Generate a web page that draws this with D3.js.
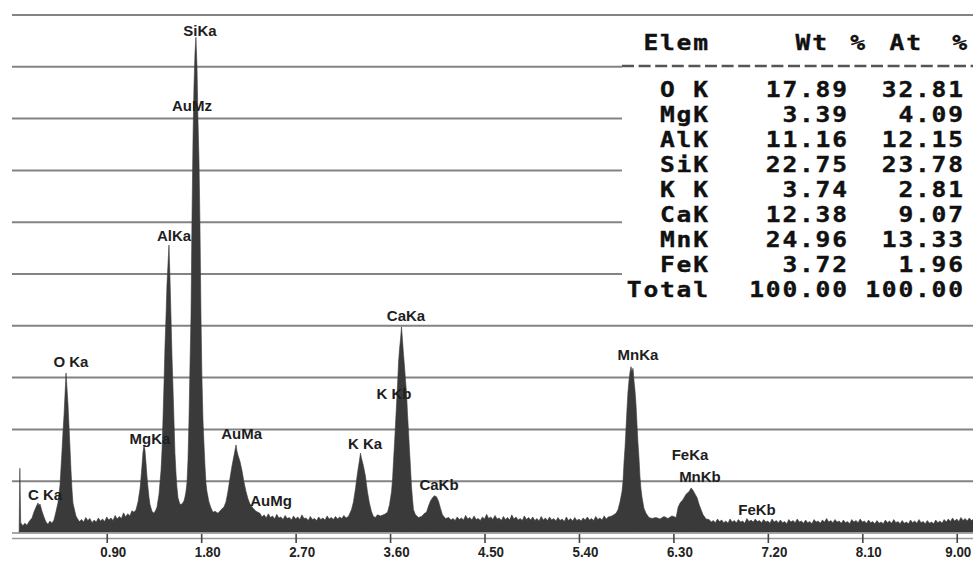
<!DOCTYPE html>
<html><head><meta charset="utf-8">
<script src="https://cdn.jsdelivr.net/npm/d3@7"></script>
<style>
html,body{margin:0;padding:0;background:#fff;}
svg{display:block;}
</style></head>
<body>
<svg id="chart" width="973" height="561"></svg>
<script>
// ---------- DATA ----------
// EDS spectrum: [energy keV, counts]
const spectrum = [
[0.065,0],[0.072,125],[0.080,20],[0.10,14],[0.12,19],[0.14,15],[0.16,22],
[0.188,29],[0.207,41],[0.226,50],[0.245,58],[0.254,53],[0.264,56],[0.283,42],[0.302,31],[0.321,21],[0.340,17],[0.359,23],[0.378,19],
[0.397,25],[0.416,41],[0.435,58],[0.455,93],[0.464,125],[0.474,160],[0.483,195],[0.493,228],[0.502,266],[0.512,309],[0.521,280],[0.531,247],[0.540,208],[0.550,164],[0.559,122],[0.569,83],[0.578,58],[0.597,41],[0.607,33],
[0.62,28],[0.64,22],[0.66,26],[0.68,21],[0.70,30],[0.72,24],[0.74,28],[0.76,20],[0.78,25],[0.80,21],[0.82,29],[0.84,23],[0.86,27],[0.88,22],[0.90,31],[0.92,25],[0.94,29],[0.96,24],[0.98,34],[1.00,27],[1.02,32],[1.04,28],[1.06,39],[1.08,31],[1.10,37],[1.12,33],[1.14,43],[1.16,40],
[1.179,45],[1.198,60],[1.217,85],[1.226,105],[1.236,130],[1.245,155],[1.255,170],[1.264,160],[1.274,135],[1.283,110],[1.293,88],[1.302,70],[1.312,55],[1.331,42],[1.350,38],[1.369,45],
[1.379,50],[1.398,75],[1.417,120],[1.427,160],[1.436,220],[1.446,290],[1.455,360],[1.465,420],[1.474,480],[1.484,520],[1.493,556],[1.503,490],[1.512,420],[1.522,340],[1.531,282],[1.541,215],[1.550,154],[1.560,115],[1.569,88],[1.579,68],[1.598,55],[1.617,56],[1.636,62],
[1.646,70],[1.655,80],[1.665,98],[1.674,140],[1.684,220],[1.693,320],[1.703,420],[1.712,600],[1.722,760],[1.731,860],[1.741,927],[1.750,957],[1.760,900],[1.769,800],[1.779,720],[1.788,600],[1.798,420],[1.807,300],[1.817,218],[1.827,170],[1.836,130],[1.846,95],[1.855,80],[1.874,60],[1.894,48],[1.913,40],
[1.932,42],[1.960,38],[1.989,45],[2.017,50],[2.036,60],[2.055,80],[2.074,105],[2.094,130],[2.113,150],[2.132,170],[2.141,158],[2.151,150],[2.170,138],[2.189,120],[2.208,98],[2.227,80],[2.246,66],[2.265,56],[2.294,48],[2.322,42],
[2.36,38],[2.38,31],[2.40,35],[2.42,29],[2.44,37],[2.46,30],[2.48,33],[2.50,27],[2.52,36],[2.54,29],[2.56,31],[2.58,26],[2.60,34],[2.62,28],[2.64,30],[2.66,25],[2.68,33],[2.70,27],[2.72,31],[2.74,26],[2.76,35],[2.78,28],[2.80,29],[2.82,24],[2.84,32],[2.86,26],[2.88,28],[2.90,24],[2.92,31],[2.94,26],[2.96,29],[2.98,25],[3.00,33],[3.02,27],[3.04,30],[3.06,26],[3.08,32],[3.10,27],[3.12,31],[3.14,28],[3.16,34],[3.18,29],
[3.203,32],[3.232,45],[3.251,60],[3.270,85],[3.289,115],[3.308,140],[3.318,154],[3.327,145],[3.346,130],[3.365,110],[3.384,80],[3.403,58],[3.422,42],[3.441,32],[3.460,30],[3.479,35],
[3.509,33],[3.547,36],[3.576,40],[3.595,55],[3.614,80],[3.624,105],[3.633,140],[3.643,175],[3.652,210],[3.662,250],[3.671,285],[3.681,330],[3.690,355],[3.700,375],[3.709,398],[3.719,370],[3.728,345],[3.738,320],[3.747,295],[3.757,270],[3.766,230],[3.776,195],[3.785,160],[3.795,125],[3.804,90],[3.814,65],[3.823,45],[3.842,35],[3.871,30],[3.900,32],[3.928,38],
[3.947,40],[3.966,52],[3.985,62],[4.004,68],[4.023,72],[4.042,70],[4.061,62],[4.080,48],[4.099,35],[4.128,28],
[4.16,30],[4.18,25],[4.20,28],[4.22,24],[4.24,31],[4.26,26],[4.28,29],[4.30,25],[4.32,34],[4.34,27],[4.36,30],[4.38,25],[4.40,33],[4.42,26],[4.44,28],[4.46,24],[4.48,31],[4.50,27],[4.52,36],[4.54,28],[4.56,31],[4.58,26],[4.60,34],[4.62,27],[4.64,29],[4.66,24],[4.68,32],[4.70,26],[4.72,30],[4.74,25],[4.76,35],[4.78,27],[4.80,31],[4.82,25],[4.84,28],[4.86,24],[4.88,33],[4.90,26],[4.92,30],[4.94,25],[4.96,31],[4.98,24],[5.00,28],[5.02,23],[5.04,32],[5.06,25],[5.08,29],[5.10,24],[5.12,31],[5.14,25],[5.16,28],[5.18,23],[5.20,30],[5.22,24],[5.24,27],[5.26,22],[5.28,31],[5.30,24],[5.32,28],[5.34,23],[5.36,30],[5.38,24],[5.40,27],[5.42,23],[5.44,29],[5.46,25],[5.48,31],[5.50,25],[5.52,28],[5.54,24],[5.56,32],[5.58,26],[5.60,29],[5.62,25],[5.64,33],[5.66,27],[5.68,31],
[5.715,33],[5.753,38],[5.772,45],[5.791,60],[5.810,80],[5.820,100],[5.829,135],[5.839,165],[5.848,200],[5.858,240],[5.867,272],[5.877,295],[5.886,310],[5.896,321],[5.905,312],[5.915,318],[5.924,295],[5.934,275],[5.943,250],[5.953,210],[5.962,175],[5.972,145],[5.981,110],[5.991,85],[6.000,70],[6.019,48],[6.039,38],[6.067,30],[6.096,28],[6.134,30],[6.172,27],[6.210,32],[6.248,28],[6.286,33],
[6.326,30],[6.345,50],[6.364,58],[6.393,65],[6.421,75],[6.450,80],[6.469,87],[6.488,82],[6.507,75],[6.526,68],[6.545,55],[6.564,45],[6.583,35],[6.612,27],
[6.64,26],[6.66,21],[6.68,24],[6.70,20],[6.72,27],[6.74,22],[6.76,25],[6.78,20],[6.80,23],[6.82,19],[6.84,27],[6.86,21],[6.88,24],[6.90,20],[6.92,26],[6.94,21],[6.96,23],[6.98,19],[7.00,28],[7.02,22],[7.04,25],[7.06,21],[7.08,27],[7.10,22],[7.12,24],[7.14,20],[7.16,26],[7.18,21],[7.20,23],[7.22,19],[7.24,27],[7.26,21],[7.28,24],[7.30,20],[7.32,25],[7.34,20],[7.36,22],[7.38,18],[7.40,26],[7.42,21],[7.44,24],[7.46,20],[7.48,27],[7.50,21],[7.52,23],[7.54,19],[7.56,25],[7.58,20],[7.60,22],[7.62,18],[7.64,26],[7.66,21],[7.68,23],[7.70,19],[7.72,25],[7.74,21],[7.76,28],[7.78,21],[7.80,24],[7.82,20],[7.84,26],[7.86,21],[7.88,23],[7.90,19],[7.92,25],[7.94,20],[7.96,22],[7.98,18],[8.00,26],[8.02,21],[8.04,24],[8.06,20],[8.08,27],[8.10,21],[8.12,23],[8.14,19],[8.16,25],[8.18,20],[8.20,22],[8.22,18],[8.24,24],[8.26,19],[8.28,21],[8.30,18],[8.32,25],[8.34,20],[8.36,23],[8.38,19],[8.40,26],[8.42,20],[8.44,22],[8.46,18],[8.48,24],[8.50,19],[8.52,21],[8.54,18],[8.56,25],[8.58,20],[8.60,23],[8.62,19],[8.64,26],[8.66,20],[8.68,22],[8.70,18],[8.72,24],[8.74,19],[8.76,21],[8.78,18],[8.80,25],[8.82,20],[8.84,23],[8.86,19],[8.88,26],[8.90,21],[8.92,27],[8.94,22],[8.96,29],[8.98,23],[9.00,27],[9.02,22],[9.04,30],[9.06,24],[9.08,28],[9.10,23],[9.12,29],[9.14,24],[9.16,27]
];

// Peak labels: [text, keV, counts] (anchor of label)
const peakLabels = [
["SiKa",1.789,960],["AuMz",1.712,814],["AlKa",1.541,563],["O Ka",0.559,321],
["MgKa",1.312,172],["AuMa",2.186,182],["C Ka",0.312,64],["AuMg",2.465,52],
["K Ka",3.361,162],["CaKb",4.066,83],["CaKa",3.752,410],["K Kb",3.637,259],
["MnKa",5.962,334],["FeKa",6.458,140],["MnKb",6.553,99],["FeKb",7.097,35]
];

const xTicks = [0.90,1.80,2.70,3.60,4.50,5.40,6.30,7.20,8.10,9.00];
const gridCounts = [100,200,300,400,500,600,700,800,900,1000];

// Quantification table
const tableHeader = ["Elem","Wt","%","At","%"];
const elements = ["O K","MgK","AlK","SiK","K K","CaK","MnK","FeK","Total"];
const wtPct = ["17.89","3.39","11.16","22.75","3.74","12.38","24.96","3.72","100.00"];
const atPct = ["32.81","4.09","12.15","23.78","2.81","9.07","13.33","1.96","100.00"];

// ---------- DRAW ----------
const svg = d3.select("#chart");
const W = 973, H = 561;
const x = d3.scaleLinear().domain([0, 9.155]).range([12.3, 973]);
const y = d3.scaleLinear().domain([0, 1000]).range([533, 15]);

svg.append("rect").attr("width",W).attr("height",H).attr("fill","#fff");

// grid lines
svg.append("g").selectAll("line").data(gridCounts).join("line")
  .attr("x1",12).attr("x2",W)
  .attr("y1",d=>y(d)).attr("y2",d=>y(d))
  .attr("stroke","#838383").attr("stroke-width",2);

// spectrum
const area = d3.area()
  .x(d=>x(d[0])).y0(y(0)-1).y1(d=>y(d[1]))
  .curve(d3.curveLinear);
svg.append("path").datum(spectrum).attr("d",area)
  .attr("fill","#3a3a3a").attr("stroke","#3a3a3a").attr("stroke-width",0.6);

// axis base lines
svg.append("line").attr("x1",12).attr("x2",W).attr("y1",533).attr("y2",533)
  .attr("stroke","#8a8a8a").attr("stroke-width",1.5);
svg.append("line").attr("x1",12).attr("x2",W).attr("y1",538.5).attr("y2",538.5)
  .attr("stroke","#9a9a9a").attr("stroke-width",1.5);

// x axis
const ax = svg.append("g").attr("transform","translate(0,534)")
  .call(d3.axisBottom(x).tickValues(xTicks).tickFormat(d3.format(".2f")).tickSize(9).tickSizeOuter(0));
ax.select(".domain").remove();
ax.selectAll(".tick line").attr("stroke","#444").attr("stroke-width",1.6);
ax.selectAll(".tick text")
  .attr("y",0).attr("dy",0)
  .attr("transform",(d,i)=>`translate(${i===xTicks.length-1?1:6},22.5) scale(0.86,1)`)
  .attr("fill","#222")
  .style("font-family","'Liberation Sans', Arial, sans-serif")
  .style("font-weight","bold").style("font-size","15.5px");

// peak labels
svg.append("g").selectAll("text").data(peakLabels).join("text")
  .attr("x",d=>x(d[1])).attr("y",d=>y(d[2]))
  .attr("text-anchor","middle")
  .attr("fill","#1e1e1e")
  .style("font-family","'Liberation Sans', Arial, sans-serif")
  .style("font-weight","bold").style("font-size","15px")
  .text(d=>d[0]);

// table background
svg.append("rect").attr("x",622).attr("y",22).attr("width",W-622).attr("height",282).attr("fill","#fff");
svg.append("line").attr("x1",622).attr("x2",W).attr("y1",66).attr("y2",66)
  .attr("stroke","#555").attr("stroke-width",2.5).attr("stroke-dasharray","12,4.6");

const SX = 1.2, LS = 1.5;
const mono = (sel, rightX, yFn) => sel
  .attr("transform",(d,i)=>`translate(${(typeof rightX==="function"?rightX(d,i):rightX)+SX*LS},${yFn(d,i)}) scale(${SX},1)`)
  .attr("x",0).attr("y",0)
  .style("font-family","'DejaVu Sans Mono', monospace")
  .style("font-weight","bold").style("font-size","20.5px")
  .style("letter-spacing",LS+"px")
  .attr("fill","#111").attr("stroke","#111").attr("stroke-width",0.35)
  .attr("text-anchor","end")
  .text(d=>d);

const headerRight = [708, 827, 865, 921, 967];
const tg = svg.append("g");
tg.selectAll("text.h").data(tableHeader).join("text").attr("class","h")
  .call(mono,(d,i)=>headerRight[i],()=>50);

const rowY = (d,i) => 97 + 25*i;
tg.selectAll("text.e").data(elements).join("text").attr("class","e").call(mono,708,rowY);
tg.selectAll("text.w").data(wtPct).join("text").attr("class","w").call(mono,847,rowY);
tg.selectAll("text.a").data(atPct).join("text").attr("class","a").call(mono,963,rowY);
</script>
</body></html>
